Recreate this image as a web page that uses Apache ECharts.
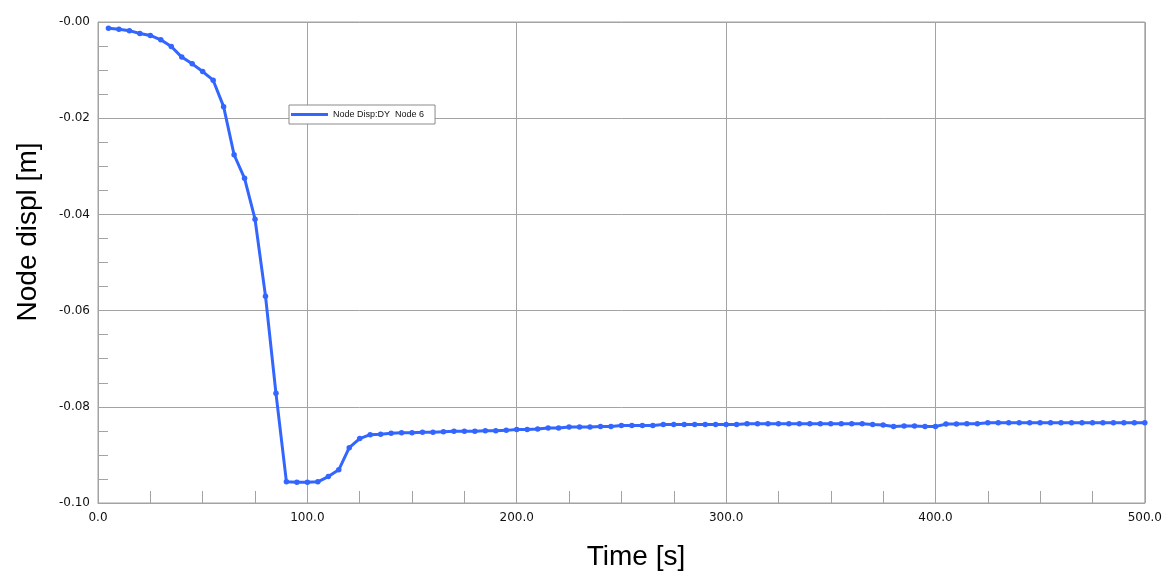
<!DOCTYPE html>
<html>
<head>
<meta charset="utf-8">
<script src="https://cdn.jsdelivr.net/npm/echarts@6/dist/echarts.min.js"></script>
<style>
html,body{margin:0;padding:0;background:#fff;}
#chart{width:1165px;height:571px;}
</style>
</head>
<body>
<div id="chart"></div>
<script>
const seriesName = 'Node Disp:DY  Node 6';
const xTitle = 'Time [s]';
const yTitle = 'Node displ [m]';
const times = [
  5,10,15,20,25,30,35,40,45,50,55,60,65,70,75,80,85,90,95,100,
  105,110,115,120,125,130,135,140,145,150,155,160,165,170,175,180,185,190,195,200,
  205,210,215,220,225,230,235,240,245,250,255,260,265,270,275,280,285,290,295,300,
  305,310,315,320,325,330,335,340,345,350,355,360,365,370,375,380,385,390,395,400,
  405,410,415,420,425,430,435,440,445,450,455,460,465,470,475,480,485,490,495,500
];
const displ = [
  -0.0013,-0.0015,-0.0018,-0.0024,-0.0028,-0.0037,-0.0051,-0.0073,-0.0087,-0.0103,
  -0.0121,-0.0176,-0.0276,-0.0325,-0.0410,-0.0570,-0.0772,-0.0956,-0.0957,-0.0957,
  -0.0956,-0.0945,-0.0931,-0.0885,-0.0866,-0.0858,-0.0857,-0.0855,-0.0854,-0.0854,
  -0.0853,-0.0853,-0.0852,-0.0851,-0.0851,-0.0851,-0.0850,-0.0850,-0.0849,-0.0847,
  -0.0847,-0.0846,-0.0844,-0.0844,-0.0842,-0.0842,-0.0842,-0.0841,-0.0841,-0.0839,
  -0.0839,-0.0839,-0.0839,-0.0837,-0.0837,-0.0837,-0.0837,-0.0837,-0.0837,-0.0837,
  -0.0837,-0.0835,-0.0835,-0.0835,-0.0835,-0.0835,-0.0835,-0.0835,-0.0835,-0.0835,
  -0.0835,-0.0835,-0.0835,-0.0837,-0.0838,-0.0841,-0.0840,-0.0840,-0.0841,-0.0841,
  -0.0836,-0.0836,-0.0835,-0.0835,-0.0833,-0.0833,-0.0833,-0.0833,-0.0833,-0.0833,
  -0.0833,-0.0833,-0.0833,-0.0833,-0.0833,-0.0833,-0.0833,-0.0833,-0.0833,-0.0833
];
const xMin = 0, xMax = 500, xStep = 100;
const yMin = -0.1, yMax = 0, yStep = 0.02;

const data = times.map((t, i) => [t, displ[i]]);
const gridColor = '#a3a3a3';
const labelFont = {fontFamily: 'DejaVu Sans', fontSize: 12, color: '#111'};

const chart = echarts.init(document.getElementById('chart'), null, {renderer: 'canvas'});
chart.setOption({
  animation: false,
  backgroundColor: '#ffffff',
  grid: {left: 98, top: 22, right: 20, bottom: 68, show: true, borderColor: gridColor, borderWidth: 1},
  legend: {
    left: 289, top: 105,
    padding: [5, 11, 5, 2],
    backgroundColor: '#ffffff',
    borderColor: '#8a8a8a', borderWidth: 1, borderRadius: 0,
    itemWidth: 37, itemHeight: 3, icon: 'rect',
    textStyle: {fontFamily: 'Liberation Sans', fontSize: 9, color: '#111'},
    data: [seriesName]
  },
  xAxis: {
    type: 'value', min: xMin, max: xMax, interval: xStep,
    axisLine: {show: true, onZero: false, lineStyle: {color: gridColor, width: 1}},
    axisTick: {show: true, inside: true, length: 12, lineStyle: {color: gridColor}},
    minorTick: {show: true, splitNumber: 4, length: 12, lineStyle: {color: gridColor, width: 1}},
    splitLine: {show: true, lineStyle: {color: gridColor, width: 1}},
    axisLabel: Object.assign({margin: 9, formatter: v => v.toFixed(1)}, labelFont)
  },
  yAxis: {
    type: 'value', min: yMin, max: yMax, interval: yStep,
    axisLine: {show: true, onZero: false, lineStyle: {color: gridColor, width: 1}},
    axisTick: {show: true, inside: true, length: 10, lineStyle: {color: gridColor}},
    minorTick: {show: true, splitNumber: 4, length: 10, lineStyle: {color: gridColor, width: 1}},
    splitLine: {show: true, lineStyle: {color: gridColor, width: 1}},
    axisLabel: Object.assign({margin: 8, formatter: v => '-' + Math.abs(v).toFixed(2)}, labelFont)
  },
  graphic: [
    {type: 'text', x: 28, y: 232, rotation: Math.PI / 2,
     style: {text: yTitle, font: '28px "Liberation Sans"', fill: '#000', textAlign: 'center', textVerticalAlign: 'middle'}},
    {type: 'text', x: 636, y: 557,
     style: {text: xTitle, font: '28px "Liberation Sans"', fill: '#000', textAlign: 'center', textVerticalAlign: 'middle'}}
  ],
  series: [{
    name: seriesName,
    type: 'line',
    data: data,
    symbol: 'circle',
    symbolSize: 5.5,
    showSymbol: true,
    itemStyle: {color: '#3366ff'},
    lineStyle: {color: '#3366ff', width: 3}
  }]
});
</script>
</body>
</html>
